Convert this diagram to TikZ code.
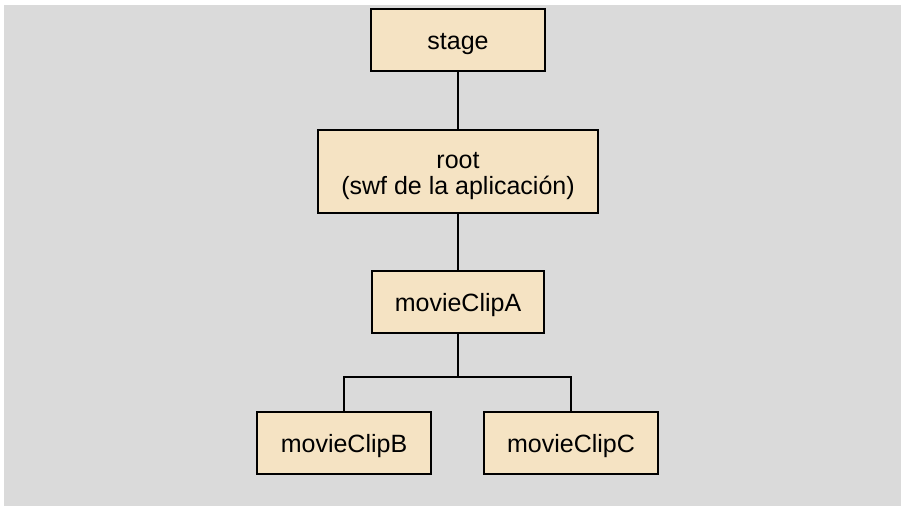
\documentclass[tikz,border=0pt]{standalone}
\usepackage{fontspec}
\setmainfont{Liberation Sans}
\definecolor{bgray}{HTML}{DADADA}
\definecolor{boxfill}{HTML}{F5E3C3}
\begin{document}
\begin{tikzpicture}[x=1pt,y=-1pt,
  box/.style={draw=black,line width=1.6pt,fill=boxfill,inner sep=0pt,
    font=\fontsize{25}{26}\selectfont,align=center,text height=19pt,text depth=0pt},
  link/.style={draw=black,line width=1.6pt}]
\useasboundingbox (0,0) rectangle (901,506);
\fill[bgray] (4,5) rectangle (901,506);
\node[box,minimum width=174pt,minimum height=62pt] (stage) at (458,40) {stage};
\node[box,minimum width=280pt,minimum height=83pt,text height=45pt] (root) at (458,171.5) {root\\(swf de la aplicación)};
\node[box,minimum width=172pt,minimum height=62pt] (A) at (458,302) {movieClipA};
\node[box,minimum width=174pt,minimum height=62pt] (B) at (344,443) {movieClipB};
\node[box,minimum width=174pt,minimum height=62pt] (C) at (571,443) {movieClipC};
\coordinate (j) at (458,377);
\draw[link] (stage.south) -- (root.north);
\draw[link] (root.south) -- (A.north);
\draw[link] (A.south) -- (j);
\draw[link] (B.north) |- (j) -| (C.north);
\end{tikzpicture}
\end{document}
